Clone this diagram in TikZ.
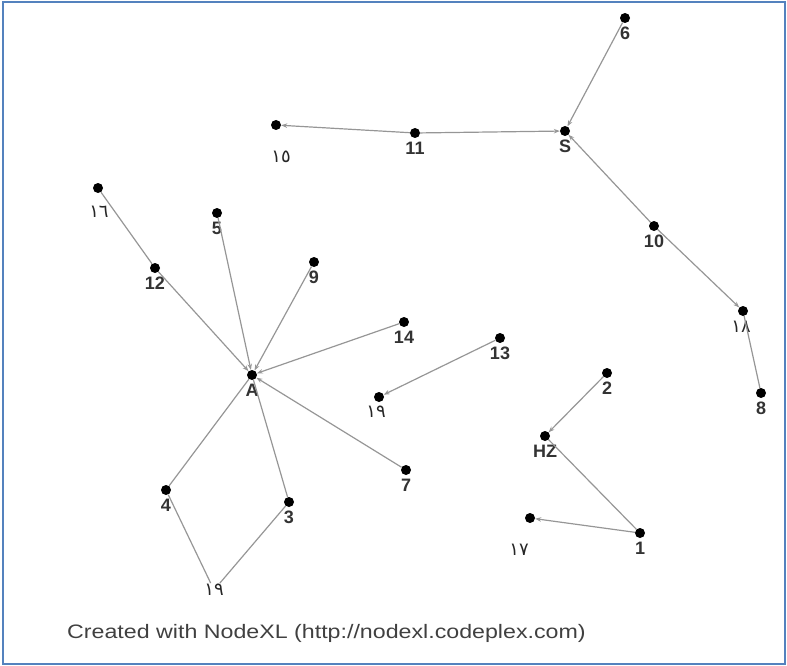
\documentclass[tikz,border=0pt]{standalone}
\usepackage{fontspec}
\setmainfont{Liberation Sans}
\newfontfamily\arabicfont[Script=Arabic]{DejaVu Sans}
\usetikzlibrary{arrows.meta}
\definecolor{frameblue}{RGB}{84,130,190}
\definecolor{edgegray}{RGB}{150,150,150}

\begin{document}
\begin{tikzpicture}[x=1pt,y=-1pt,>={Stealth[length=6pt,width=4.5pt]},
  vx/.style={circle,fill=black,inner sep=0pt,minimum size=10pt,
             label distance=-1pt,label={[font=\bfseries\fontsize{18}{20}\selectfont,text=black!80]below:#1}},
  ar/.style={text=black!85,font=\arabicfont\fontsize{18}{20}\selectfont},
  edge/.style={draw=edgegray,line width=1.2pt}]
\useasboundingbox (0,0) rectangle (787,666);
\draw[frameblue,line width=2.5pt] (3,2) rectangle (785,664);
% vertices
\node[vx=6] (n6) at (625,18) {};
\node[vx=S] (nS) at (565,131) {};
\node[vx=11] (n11) at (415,133) {};
\node[vx={}] (n15) at (276,125) {};
\node[vx={}] (n16) at (98,188) {};
\node[vx=12] (n12) at (155,268) {};
\node[vx=5] (n5) at (217,213) {};
\node[vx=9] (n9) at (314,262) {};
\node[vx=14] (n14) at (404,322) {};
\node[vx=13] (n13) at (500,338) {};
\node[vx=A] (nA) at (252,375) {};
\node[vx={}] (n19) at (379,397) {};
\node[vx=10] (n10) at (654,226) {};
\node[vx={}] (n18) at (743,311) {};
\node[vx=8] (n8) at (761,393) {};
\node[vx=2] (n2) at (607,373) {};
\node[vx=HZ] (nHZ) at (545,436) {};
\node[vx=7] (n7) at (406,470) {};
\node[vx=4] (n4) at (166,490) {};
\node[vx=3] (n3) at (289,502) {};
\node[vx=1] (n1) at (640,533) {};
\node[vx={}] (n17) at (530,518) {};
% arabic labels
\node[ar] (l15) at (281,157) {١٥};
\node[ar] (l16) at (99,212) {١٦};
\node[ar] (l18) at (741,327) {١٨};
\node[ar] (l19) at (376,412) {١٩};
\node[ar] (l17) at (519,550) {١٧};
\node[ar,inner sep=1pt] (n19b) at (214,590) {١٩};
% edges
\draw[edge,->] (n6) -- (nS);
\draw[edge,->] (n11) -- (nS);
\draw[edge,->] (n11) -- (n15);
\draw[edge,->] (n10) -- (nS);
\draw[edge,->] (n10) -- (n18);
\draw[edge] (n8) -- (n18);
\draw[edge] (n16) -- (n12);
\draw[edge,->] (n12) -- (nA);
\draw[edge,->] (n5) -- (nA);
\draw[edge,->] (n9) -- (nA);
\draw[edge,->] (n14) -- (nA);
\draw[edge,->] (n7) -- (nA);
\draw[edge] (nA) -- (n4);
\draw[edge] (nA) -- (n3);
\draw[edge] (n4) -- (n19b);
\draw[edge] (n3) -- (n19b);
\draw[edge,->] (n13) -- (n19);
\draw[edge,->] (n2) -- (nHZ);
\draw[edge] (n1) -- (nHZ);
\draw[edge,->] (n1) -- (n17);
% footer
\node[text=black!75,font=\fontsize{19.5}{22}\selectfont,anchor=west,xscale=1.19] (credit) at (63,633)
  {Created with NodeXL (http://nodexl.codeplex.com)};
\end{tikzpicture}
\end{document}
